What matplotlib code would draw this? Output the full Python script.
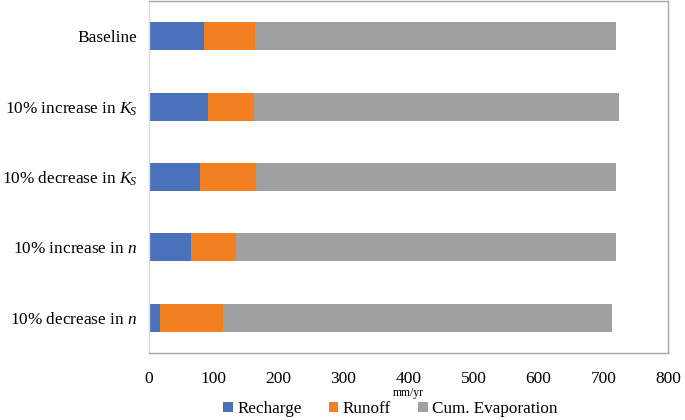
import numpy as np
import matplotlib.pyplot as plt

plt.rcParams['font.family'] = 'Liberation Serif'
plt.rcParams['mathtext.fontset'] = 'custom'
plt.rcParams['mathtext.rm'] = 'Liberation Serif'
plt.rcParams['mathtext.it'] = 'Liberation Serif:italic'

scenarios = ['Baseline',
             '10% increase in $K_{\\!S}$',
             '10% decrease in $K_{\\!S}$',
             '10% increase in $n$',
             '10% decrease in $n$']
recharge = [85, 91.5, 79, 65, 17]
runoff = [79, 70.5, 87, 70, 98]
evaporation = [556, 562, 553, 584, 598]

colors = ['#4a72ba', '#f28022', '#a0a0a0']

fig = plt.figure(figsize=(6.85, 4.2), dpi=100)
ax = fig.add_axes([0.2168, 0.1595, 0.7591, 0.8381])

y = np.arange(len(scenarios))
left = np.zeros(len(scenarios))
for vals, col, lab in zip([recharge, runoff, evaporation], colors,
                          ['Recharge', 'Runoff', 'Cum. Evaporation']):
    ax.barh(y, vals, left=left, height=0.4, color=col, label=lab)
    left = left + np.array(vals)

ax.set_ylim(4.5, -0.5)
ax.set_xlim(0, 800)
ax.set_xticks(np.arange(0, 801, 100))
ax.set_yticks(y)
ax.set_yticklabels(scenarios, fontsize=12.4)
ax.tick_params(axis='x', labelsize=12.5, length=0, pad=13)
ax.tick_params(axis='y', length=0, pad=8)
ax.set_xlabel('mm/yr', fontsize=8.5, labelpad=0)

for s in ['top', 'right', 'bottom']:
    ax.spines[s].set_color('#a6a6a6')
ax.spines['left'].set_color('#d9d9d9')
for s in ax.spines.values():
    s.set_linewidth(1.0)

fig.legend(*ax.get_legend_handles_labels(), loc='center',
           bbox_to_anchor=(0.57, 11 / 420), ncol=3, frameon=False,
           fontsize=12.3, handlelength=0.55, handleheight=0.55,
           handletextpad=0.25, columnspacing=1.6, borderpad=0)

fig.savefig('out.png', dpi=100)
